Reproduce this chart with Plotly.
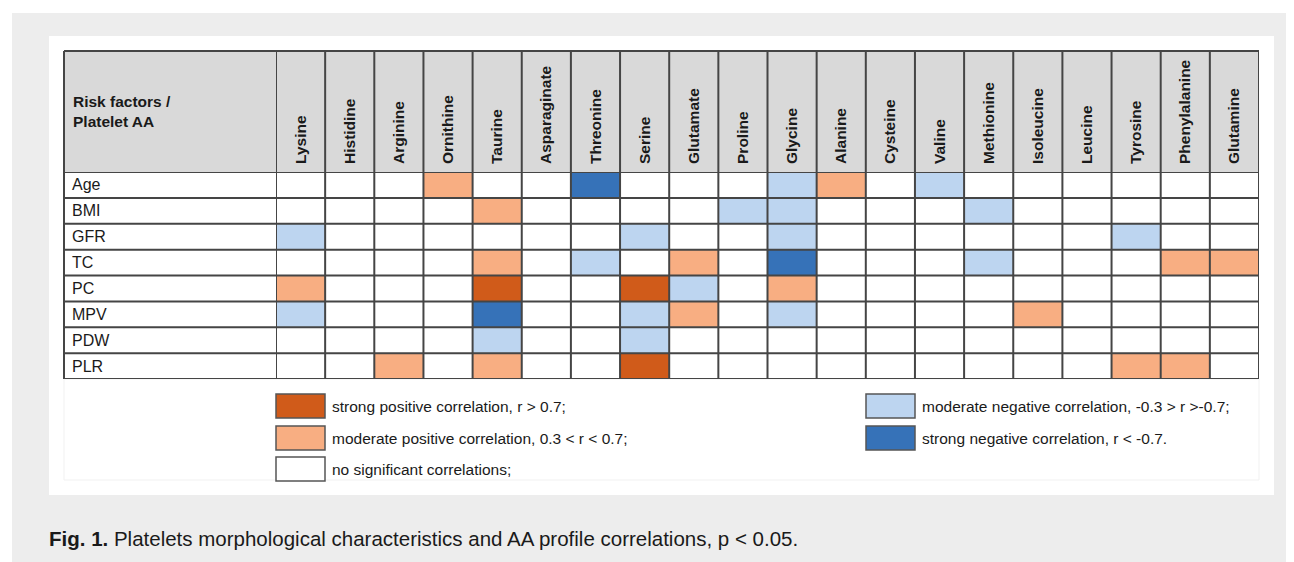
import plotly.graph_objects as go

# ---------------- data ----------------
amino_acids = ["Lysine", "Histidine", "Arginine", "Ornithine", "Taurine", "Asparaginate",
               "Threonine", "Serine", "Glutamate", "Proline", "Glycine", "Alanine",
               "Cysteine", "Valine", "Methionine", "Isoleucine", "Leucine", "Tyrosine",
               "Phenylalanine", "Glutamine"]
risk_factors = ["Age", "BMI", "GFR", "TC", "PC", "MPV", "PDW", "PLR"]

# correlation class: 2 strong +, 1 moderate +, 0 none, -1 moderate -, -2 strong -
age = [0, 0, 0, 1, 0, 0, -2, 0, 0, 0, -1, 1, 0, -1, 0, 0, 0, 0, 0, 0]
bmi = [0, 0, 0, 0, 1, 0, 0, 0, 0, -1, -1, 0, 0, 0, -1, 0, 0, 0, 0, 0]
gfr = [-1, 0, 0, 0, 0, 0, 0, -1, 0, 0, -1, 0, 0, 0, 0, 0, 0, -1, 0, 0]
tc = [0, 0, 0, 0, 1, 0, -1, 0, 1, 0, -2, 0, 0, 0, -1, 0, 0, 0, 1, 1]
pc = [1, 0, 0, 0, 2, 0, 0, 2, -1, 0, 1, 0, 0, 0, 0, 0, 0, 0, 0, 0]
mpv = [-1, 0, 0, 0, -2, 0, 0, -1, 1, 0, -1, 0, 0, 0, 0, 1, 0, 0, 0, 0]
pdw = [0, 0, 0, 0, -1, 0, 0, -1, 0, 0, 0, 0, 0, 0, 0, 0, 0, 0, 0, 0]
plr = [0, 0, 1, 0, 1, 0, 0, 2, 0, 0, 0, 0, 0, 0, 0, 0, 0, 1, 1, 0]
z = [age, bmi, gfr, tc, pc, mpv, pdw, plr]

class_codes = [2, 1, 0, -1, -2]
class_colors = ["#D05B1A", "#F8AE82", "#FFFFFF", "#BDD5F0", "#3672B8"]
class_labels = ["strong positive correlation, r > 0.7;",
                "moderate positive correlation, 0.3 < r < 0.7;",
                "no significant correlations;",
                "moderate negative correlation, -0.3 > r >-0.7;",
                "strong negative correlation, r < -0.7."]

# ---------------- layout helpers ----------------
W, H = 1294, 562
OFF = 8  # page body margin around the figure
def px(x):
    return (x - OFF) / W
def py(y):
    return 1 - (y - OFF) / H

FONT = "Liberation Sans, Arial, sans-serif"
GRID = "#454545"
TXT = "#1a1a1a"

# discrete colour scale from -2..2
color_by_code = dict(zip(class_codes, class_colors))
ordered = [color_by_code[c] for c in sorted(class_codes)]
n = len(ordered)
colorscale = []
for i, c in enumerate(ordered):
    colorscale.append([i / n, c])
    colorscale.append([(i + 1) / n, c])

fig = go.Figure()
fig.add_trace(go.Heatmap(
    z=z, x=amino_acids, y=risk_factors,
    zmin=-2.5, zmax=2.5, colorscale=colorscale, showscale=False,
    hovertemplate="%{y} / %{x}: %{z}<extra></extra>",
))

TL, TR, TT, HB, TB = 64, 1259, 51, 172, 379   # table left/right/top, header bottom, table bottom

shapes = []
# outer gray background and white panel
shapes.append(dict(type="rect", xref="paper", yref="paper", x0=px(12), x1=1.0, y0=0, y1=py(13),
                   fillcolor="#ededed", line=dict(width=0), layer="below"))
shapes.append(dict(type="rect", xref="paper", yref="paper", x0=px(49), x1=px(1274), y0=py(495), y1=py(36),
                   fillcolor="#ffffff", line=dict(width=0), layer="below"))
# faint legend frame
shapes.append(dict(type="rect", xref="paper", yref="paper", x0=px(TL), x1=px(TR), y0=py(480), y1=py(TB),
                   fillcolor="rgba(0,0,0,0)", line=dict(width=1, color="#f1f1f1"), layer="below"))
# header band
shapes.append(dict(type="rect", xref="paper", yref="paper", x0=px(TL), x1=px(TR), y0=py(HB), y1=py(TT),
                   fillcolor="#d9d9d9", line=dict(width=0), layer="below"))
# label column background
shapes.append(dict(type="rect", xref="paper", yref="paper", x0=px(TL), x1=px(276), y0=py(TB), y1=py(HB),
                   fillcolor="#ffffff", line=dict(width=0), layer="below"))
# vertical column lines (data columns, through header)
for i in range(len(amino_acids) + 1):
    shapes.append(dict(type="line", xref="x", yref="paper", x0=i - 0.5, x1=i - 0.5,
                       y0=py(TB), y1=py(TT), line=dict(color=GRID, width=2)))
# horizontal row lines across the whole table
for j in range(len(risk_factors) + 1):
    shapes.append(dict(type="line", xref="paper", yref="y", x0=px(TL), x1=px(TR),
                       y0=j - 0.5, y1=j - 0.5, line=dict(color=GRID, width=2)))
# table frame (top, left)
shapes.append(dict(type="line", xref="paper", yref="paper", x0=px(TL), x1=px(TR), y0=py(TT), y1=py(TT),
                   line=dict(color=GRID, width=2)))
shapes.append(dict(type="line", xref="paper", yref="paper", x0=px(TL), x1=px(TL), y0=py(TB), y1=py(TT),
                   line=dict(color=GRID, width=2)))

annotations = []
# header title
annotations.append(dict(xref="paper", yref="paper", x=px(71), y=py(111), xanchor="left", yanchor="middle",
                        align="left", showarrow=False,
                        text="<b>Risk factors /<br>Platelet AA</b>",
                        font=dict(family=FONT, size=15.5, color=TXT)))
# row labels
for r in risk_factors:
    annotations.append(dict(xref="paper", yref="y", x=px(70), y=r, xanchor="left", yanchor="middle",
                            showarrow=False, text=r, font=dict(family=FONT, size=16, color=TXT)))

# legend
legend_pos = [(276, 406), (276, 438), (276, 469), (866, 406), (866, 438)]
for (lx, ly), col, lab in zip(legend_pos, class_colors, class_labels):
    shapes.append(dict(type="rect", xref="paper", yref="paper", x0=px(lx), x1=px(lx + 49),
                       y0=py(ly + 12), y1=py(ly - 12), fillcolor=col, line=dict(color="#555555", width=1.5)))
    annotations.append(dict(xref="paper", yref="paper", x=px(lx + 54), y=py(ly), xanchor="left",
                            yanchor="middle", showarrow=False, text=lab,
                            font=dict(family=FONT, size=15.5, color=TXT)))

# caption
annotations.append(dict(xref="paper", yref="paper", x=px(47), y=py(538), xanchor="left", yanchor="middle",
                        showarrow=False,
                        text="<b>Fig. 1.</b> Platelets morphological characteristics and AA profile correlations, p < 0.05.",
                        font=dict(family=FONT, size=20.5, color=TXT)))

fig.update_layout(
    width=W, height=H, margin=dict(l=0, r=0, t=0, b=0),
    paper_bgcolor="#ffffff", plot_bgcolor="#ffffff",
    shapes=shapes, annotations=annotations, showlegend=False,
    xaxis=dict(domain=[px(276), px(TR)], range=[-0.5, len(amino_acids) - 0.5], side="top",
               tickangle=-90, showgrid=False, zeroline=False, showline=False, ticks="",
               ticklabelstandoff=7, fixedrange=True,
               tickfont=dict(family=FONT, size=15.5, color=TXT, weight="bold")),
    yaxis=dict(domain=[py(TB), py(HB)], range=[len(risk_factors) - 0.5, -0.5], showticklabels=False,
               showgrid=False, zeroline=False, showline=False, ticks="", fixedrange=True),
)

fig.write_html("out.html")
